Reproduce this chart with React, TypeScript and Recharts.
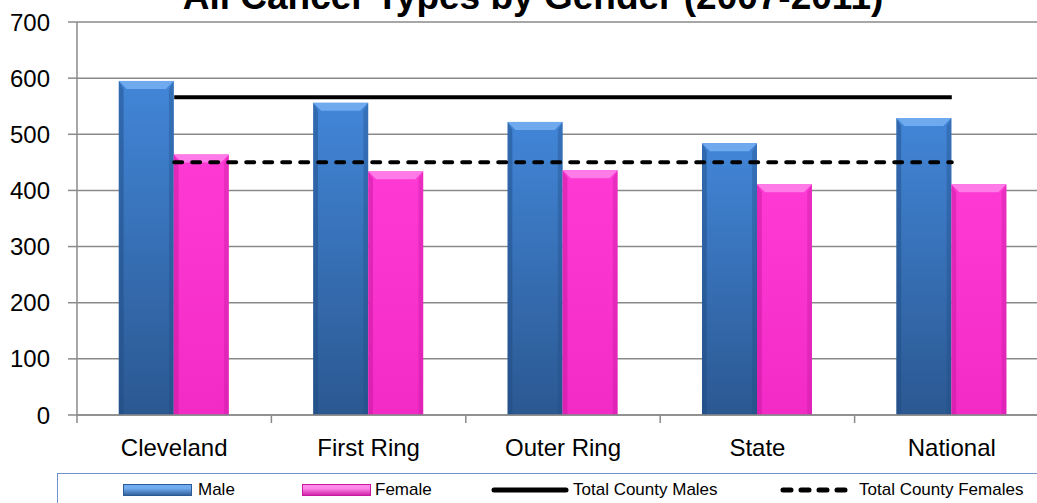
import React from 'react';
import { ComposedChart, Bar, Line, XAxis, YAxis, CartesianGrid } from 'recharts';

const categories = ['Cleveland', 'First Ring', 'Outer Ring', 'State', 'National'];
const maleValues = [595, 556, 522, 484, 529];
const femaleValues = [464, 434, 436, 411, 411];
const countyMales = [566, 566, 566, 566, 566];
const countyFemales = [450, 450, 450, 450, 450];
const yTicks = [0, 100, 200, 300, 400, 500, 600, 700];

const data = categories.map((name, i) => ({
  name,
  male: maleValues[i],
  female: femaleValues[i],
  tcm: countyMales[i],
  tcf: countyFemales[i],
}));

const FONT = '"Liberation Sans", Arial, sans-serif';
const AXIS = '#8a8a8a';
const CHART_W = 1062;
const CHART_H = 503;
const MARGIN = { top: 22, right: 13, left: 0, bottom: 0 };
const Y_W = 77;
const X_H = 88;
const X_MARGIN = 24;

type BarColors = { top: string; bottom: string; bevel: string; edge: string };

function makeBevelBar(c: BarColors, id: string) {
  return (props: any) => {
    const { x, y, width, height, index } = props;
    if (!height || height <= 0) return <g />;
    const b = Math.min(8, width / 4, height / 2);
    const gid = `${id}-g-${index}`;
    const e = b * 0.6;
    return (
      <g>
        <defs>
          <linearGradient id={gid} x1="0" y1="0" x2="0" y2="1">
            <stop offset="0%" stopColor={c.top} />
            <stop offset="100%" stopColor={c.bottom} />
          </linearGradient>
        </defs>
        <rect x={x} y={y} width={width} height={height} fill={`url(#${gid})`} />
        <polygon
          points={`${x},${y} ${x + e},${y + b} ${x + e},${y + height} ${x},${y + height}`}
          fill={c.edge}
          opacity={0.45}
        />
        <polygon
          points={`${x + width},${y} ${x + width - e},${y + b} ${x + width - e},${y + height} ${x + width},${y + height}`}
          fill={c.edge}
          opacity={0.35}
        />
        <polygon
          points={`${x},${y} ${x + width},${y} ${x + width - b},${y + b} ${x + b},${y + b}`}
          fill={c.bevel}
        />
      </g>
    );
  };
}

const MaleBar = makeBevelBar({ top: '#4286d8', bottom: '#2b5891', bevel: '#6fa9ee', edge: '#1f4a80' }, 'male');
const FemaleBar = makeBevelBar({ top: '#ff3ad4', bottom: '#f22bc6', bevel: '#ff7ce8', edge: '#c0169a' }, 'female');

const CategoryTick = (props: any) => {
  const { x, y, payload, width, visibleTicksCount } = props;
  const plotW = typeof width === 'number' ? width : CHART_W - MARGIN.right - Y_W;
  const count = visibleTicksCount || categories.length;
  const half = plotW / count / 2;
  const axisY = y - X_MARGIN;
  const isLast = payload.index === count - 1 || payload.value === categories[categories.length - 1];
  return (
    <g>
      <line x1={x - half} y1={axisY} x2={x - half} y2={axisY + 8} stroke={AXIS} strokeWidth={1.5} />
      {isLast && (
        <line x1={x + half} y1={axisY} x2={x + half} y2={axisY + 8} stroke={AXIS} strokeWidth={1.5} />
      )}
      <text x={x} y={y} dy="0.71em" textAnchor="middle" fontSize={24} fill="#000" fontFamily={FONT}>
        {payload.value}
      </text>
    </g>
  );
};

const legendText: React.CSSProperties = {
  position: 'absolute',
  top: 480,
  fontSize: 17,
  lineHeight: '20px',
  color: '#000',
  fontFamily: FONT,
  whiteSpace: 'nowrap',
};

function Swatch({ left, light, dark }: { left: number; light: string; dark: string }) {
  return (
    <div
      style={{
        position: 'absolute',
        left,
        top: 484,
        width: 69,
        height: 12,
        background: `linear-gradient(to bottom, ${light} 0%, ${light} 35%, ${dark} 100%)`,
        boxShadow: `inset 0 0 0 1px ${dark}`,
      }}
    />
  );
}

export default function App() {
  return (
    <div
      style={{
        position: 'absolute',
        left: 0,
        top: 0,
        width: 1037,
        height: 503,
        overflow: 'hidden',
        background: '#fff',
        fontFamily: FONT,
      }}
    >
      <div
        style={{
          position: 'absolute',
          left: 0,
          top: -24,
          width: 1066,
          textAlign: 'center',
          fontSize: 37,
          fontWeight: 'bold',
          lineHeight: '42px',
          color: '#000',
          fontFamily: FONT,
          whiteSpace: 'nowrap',
        }}
      >
        All Cancer Types by Gender (2007-2011)
      </div>
      <div style={{ position: 'absolute', left: 0, top: 0 }}>
        <ComposedChart
          width={CHART_W}
          height={CHART_H}
          data={data}
          margin={MARGIN}
          barGap={0}
          barCategoryGap="21.5%"
        >
          <CartesianGrid vertical={false} stroke={AXIS} strokeWidth={1.5} />
          <XAxis
            dataKey="name"
            height={X_H}
            interval={0}
            tickLine={false}
            tickSize={0}
            tickMargin={X_MARGIN}
            axisLine={{ stroke: AXIS, strokeWidth: 1.5 }}
            tick={<CategoryTick />}
          />
          <YAxis
            domain={[0, 700]}
            ticks={yTicks}
            width={Y_W}
            tickSize={9}
            tickMargin={18}
            axisLine={{ stroke: AXIS, strokeWidth: 1.5 }}
            tickLine={{ stroke: AXIS, strokeWidth: 1.5 }}
            tick={{ fontSize: 24, fill: '#000', fontFamily: FONT }}
          />
          <Bar dataKey="male" name="Male" shape={MaleBar} isAnimationActive={false} />
          <Bar dataKey="female" name="Female" shape={FemaleBar} isAnimationActive={false} />
          <Line
            dataKey="tcm"
            name="Total County Males"
            stroke="#000"
            strokeWidth={4}
            dot={false}
            activeDot={false}
            isAnimationActive={false}
          />
          <Line
            dataKey="tcf"
            name="Total County Females"
            stroke="#000"
            strokeWidth={4}
            strokeDasharray="8 10"
            strokeLinecap="round"
            dot={false}
            activeDot={false}
            isAnimationActive={false}
          />
        </ComposedChart>
      </div>
      <div
        style={{
          position: 'absolute',
          left: 57,
          top: 473,
          width: 1100,
          height: 60,
          border: '1.5px solid #6f93c8',
          boxSizing: 'border-box',
        }}
      />
      <Swatch left={123} light="#72acf0" dark="#2c5a94" />
      <div style={{ ...legendText, left: 198 }}>Male</div>
      <Swatch left={302} light="#ff8aea" dark="#c8199f" />
      <div style={{ ...legendText, left: 375 }}>Female</div>
      <svg style={{ position: 'absolute', left: 490, top: 484, overflow: 'visible' }} width={80} height={12}>
        <line x1={4} y1={6} x2={76} y2={6} stroke="#000" strokeWidth={5} strokeLinecap="round" />
      </svg>
      <div style={{ ...legendText, left: 573 }}>Total County Males</div>
      <svg style={{ position: 'absolute', left: 778, top: 484, overflow: 'visible' }} width={72} height={12}>
        <line x1={5} y1={6} x2={67} y2={6} stroke="#000" strokeWidth={5} strokeDasharray="8 10" strokeLinecap="round" />
      </svg>
      <div style={{ ...legendText, left: 859 }}>Total County Females</div>
    </div>
  );
}
